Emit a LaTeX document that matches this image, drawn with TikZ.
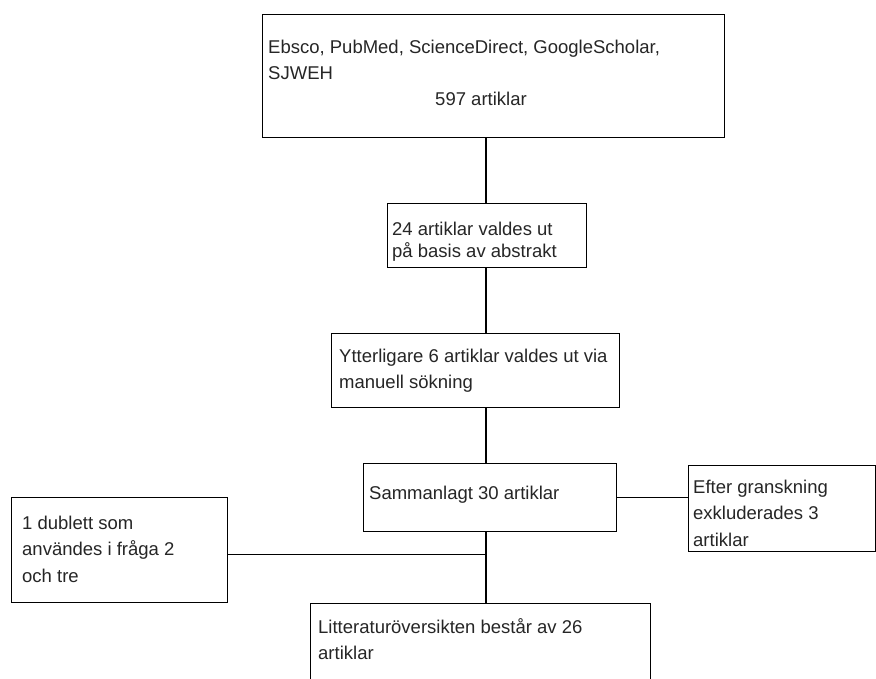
\documentclass[tikz,border=0pt]{standalone}
\usepackage{fontspec}
\setmainfont{Liberation Sans}
\usetikzlibrary{calc}

\begin{document}
\begin{tikzpicture}[x=1pt,y=-1pt]
	\tikzstyle{box}=[rectangle,draw=black,line width=1.3pt,fill=white,anchor=north west,inner sep=0pt]
	\tikzstyle{txt}=[anchor=north west,inner sep=0pt,align=left,text=black!85,font=\fontsize{18.5}{26.5}\selectfont]
	\tikzstyle{link}=[draw=black,line width=1.3pt]
	\useasboundingbox[fill=white] (0,0) rectangle (876,679);
	\clip (0,0) rectangle (876,679);
	% the boxes
	\node[box,minimum width=462pt,minimum height=123pt] (src) at (262,14){};
	\node[box,minimum width=199pt,minimum height=64pt] (abs) at (387,203){};
	\node[box,minimum width=288pt,minimum height=74pt] (man) at (331,333){};
	\node[box,minimum width=253pt,minimum height=68pt] (tot) at (363,463){};
	\node[box,minimum width=187pt,minimum height=86pt] (exc) at (688,465){};
	\node[box,minimum width=216pt,minimum height=105pt] (dup) at (11,497){};
	\node[box,minimum width=340pt,minimum height=100pt] (res) at (310,603){};
	% the texts
	\node[txt] (srcT) at (268,34.5){\strut Ebsco, PubMed, ScienceDirect, GoogleScholar,\\SJWEH};
	\node[txt,anchor=base] (srcN) at (481,106){597 artiklar};
	\node[txt,font=\fontsize{18.5}{20}\selectfont] (absT) at (392,221){\strut 24 artiklar valdes ut\\på basis av abstrakt};
	\node[txt] (manT) at (339,343.5){\strut Ytterligare 6 artiklar valdes ut via\\manuell sökning};
	\node[txt] (totT) at (369,480.5){\strut Sammanlagt 30 artiklar};
	\node[txt] (excT) at (693,474.5){\strut Efter granskning\\exkluderades 3\\artiklar};
	\node[txt] (dupT) at (22,510.5){\strut 1 dublett som\\användes i fråga 2\\och tre};
	\node[txt] (resT) at (318,614.5){\strut Litteraturöversikten består av 26\\artiklar};
	% the links
	\coordinate (spine) at (486,0);
	\draw[link] (src.south -| spine) -- (abs.north -| spine);
	\draw[link] (abs.south -| spine) -- (man.north -| spine);
	\draw[link] (man.south -| spine) -- (tot.north -| spine);
	\draw[link] (tot.south -| spine) -- (res.north -| spine);
	\draw[link] ($(tot.east)+(0,0)$) -- (tot.east -| exc.west);
	\draw[link] ($(dup.east)+(0,4.5)$) -- ($(dup.east -| spine)+(0,4.5)$);
\end{tikzpicture}
\end{document}
